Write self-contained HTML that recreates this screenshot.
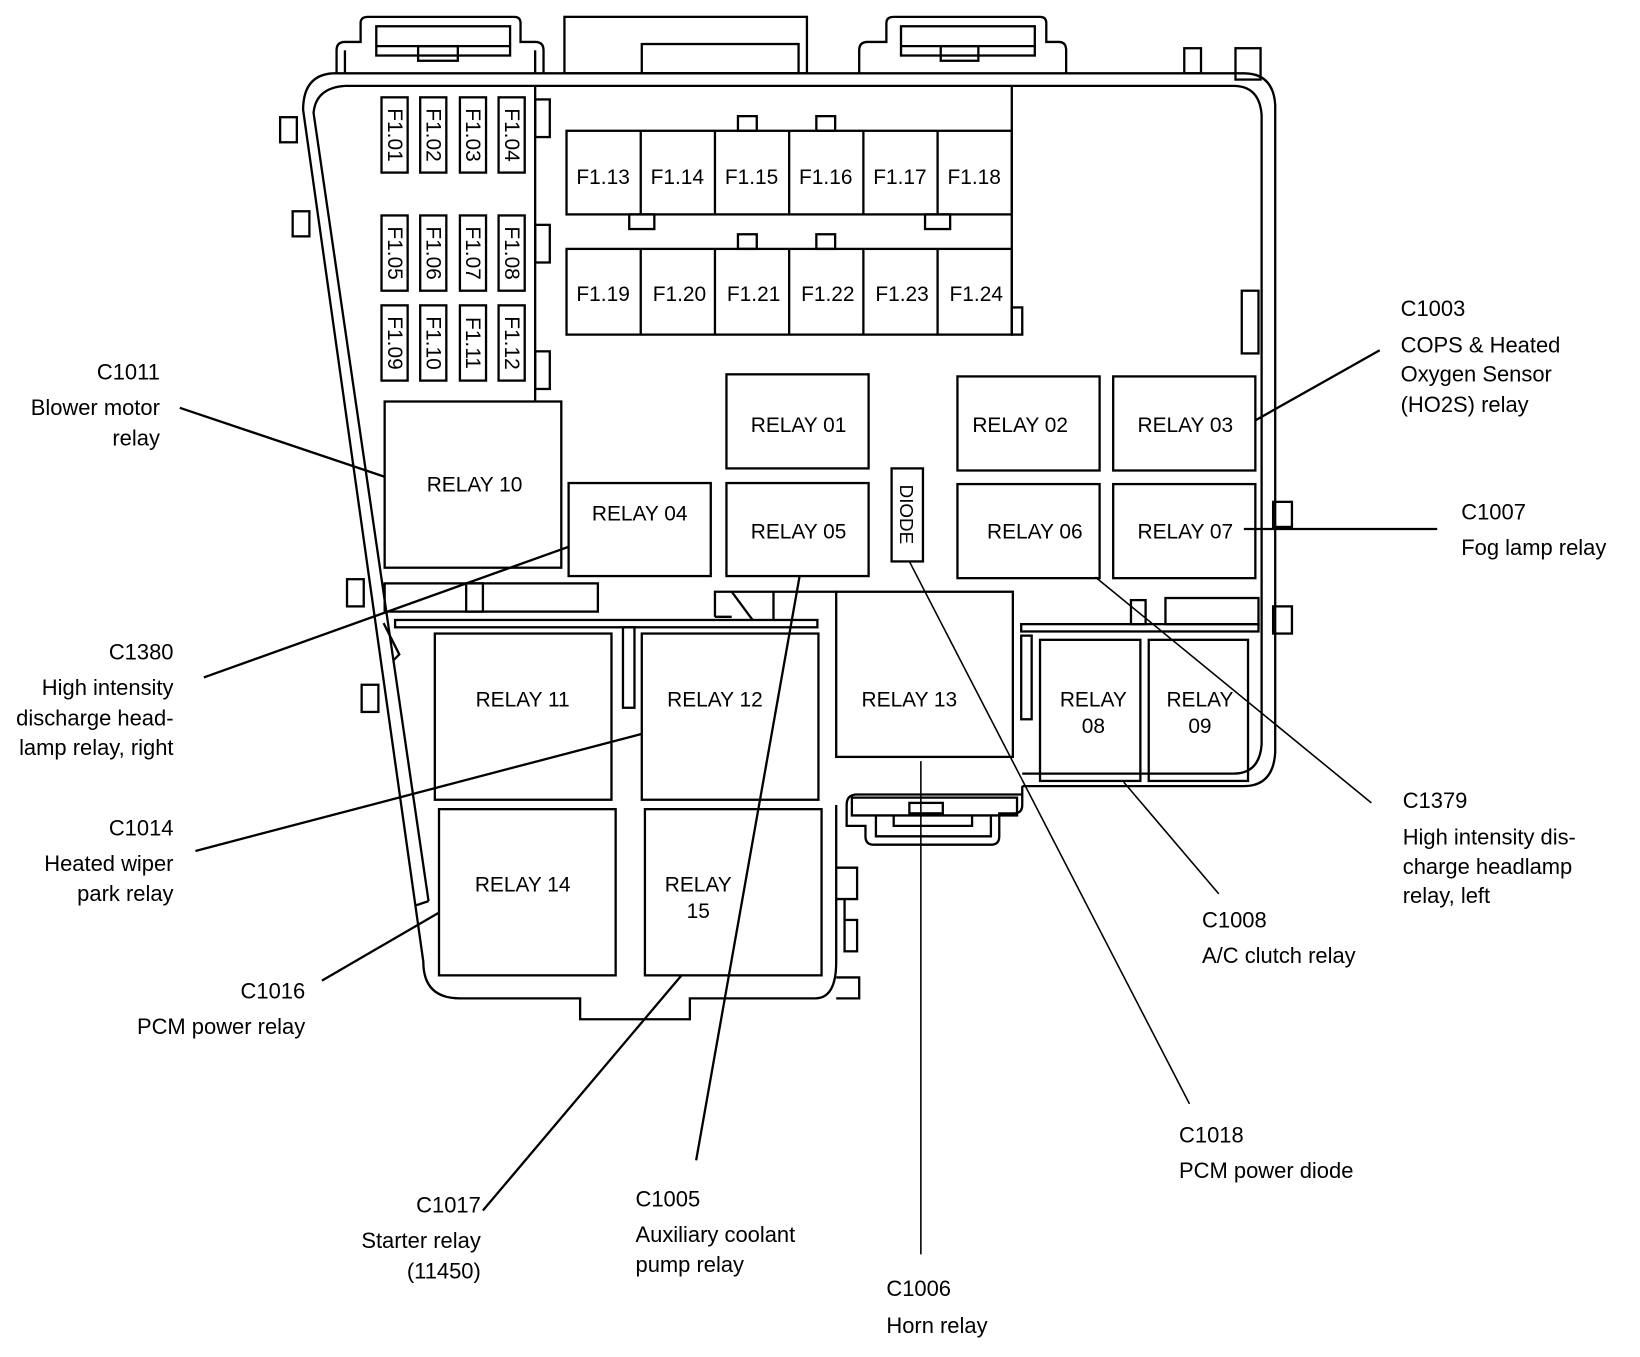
<!DOCTYPE html>
<html><head><meta charset="utf-8"><style>
html,body{margin:0;padding:0;background:#fff;width:1640px;height:1357px;overflow:hidden}
svg{display:block}
text{font-family:"Liberation Sans",sans-serif;fill:#000}
.l{font-size:21px}
.r{font-size:20px;text-anchor:middle}
.f{font-size:20px;text-anchor:middle}
</style></head><body>
<svg width="1640" height="1357" viewBox="0 0 1569 1298" xmlns="http://www.w3.org/2000/svg">
<g fill="none" stroke="#000" stroke-width="2.2">
<!-- top connectors -->
<path d="M322 70 V48 Q322 40 330 40 H345 V22 Q345 16 352 16 H492 Q498 16 498 22 V40 H512 Q520 40 520 48 V70"/>
<rect x="360" y="25" width="128" height="28"/>
<line x1="360" y1="44" x2="488" y2="44"/>
<rect x="400" y="44" width="38" height="14"/>
<line x1="330" y1="48" x2="330" y2="70"/><line x1="512" y1="48" x2="512" y2="70"/>
<rect x="540" y="16" width="232" height="54"/>
<rect x="614" y="42" width="150" height="28"/>
<path d="M822 70 V48 Q822 40 830 40 H848 V22 Q848 16 855 16 H995 Q1001 16 1001 22 V40 H1013 Q1020 40 1020 48 V70"/>
<rect x="862" y="25" width="128" height="28"/>
<line x1="862" y1="44" x2="990" y2="44"/>
<rect x="900" y="44" width="36" height="14"/>
<rect x="1133" y="46" width="16" height="24"/>
<rect x="1182" y="46" width="24" height="30"/>
<!-- outer housing -->
<path d="M318 70 H1190 Q1218 70 1220 100 V720 Q1218 752 1190 752 H978"/>
<path d="M800 770 V920 Q800 955 780 955 H660 V975 H555 V955 H440 Q405 955 405 920 L290 105 Q290 72 318 70"/>
<path d="M330 82 H1180 Q1205 82 1207 110 V712 Q1205 740 1180 740 H978"/>
<path d="M330 82 Q302 84 300 108 L410 862"/>
<line x1="410" y1="862" x2="398" y2="866"/>
<!-- left side tabs -->
<rect x="268" y="112" width="16" height="24"/>
<rect x="280" y="202" width="16" height="24"/>
<rect x="332" y="554" width="16" height="26"/>
<rect x="346" y="655" width="16" height="26"/>
<path d="M367 596 L382 626 L376 632"/>
<!-- fuse frame -->
<line x1="512" y1="82" x2="512" y2="383"/>
<line x1="968" y1="82" x2="968" y2="320"/>
<rect x="512" y="95" width="14" height="36"/>
<rect x="512" y="215" width="14" height="36"/>
<rect x="512" y="336" width="14" height="36"/>
<rect x="968" y="294" width="10" height="26"/>
<rect x="1188" y="278" width="16" height="60"/>
<!-- small fuses -->
<rect x="365" y="93" width="25" height="72"/><rect x="402" y="93" width="25" height="72"/><rect x="440" y="93" width="25" height="72"/><rect x="477" y="93" width="25" height="72"/>
<rect x="365" y="206" width="25" height="72"/><rect x="402" y="206" width="25" height="72"/><rect x="440" y="206" width="25" height="72"/><rect x="477" y="206" width="25" height="72"/>
<rect x="365" y="292" width="25" height="72"/><rect x="402" y="292" width="25" height="72"/><rect x="440" y="292" width="25" height="72"/><rect x="477" y="292" width="25" height="72"/>
<!-- fuse rows -->
<rect x="542" y="125" width="426" height="80"/>
<line x1="613" y1="125" x2="613" y2="205"/><line x1="684" y1="125" x2="684" y2="205"/><line x1="755" y1="125" x2="755" y2="205"/><line x1="826" y1="125" x2="826" y2="205"/><line x1="897" y1="125" x2="897" y2="205"/>
<rect x="542" y="238" width="426" height="82"/>
<line x1="613" y1="238" x2="613" y2="320"/><line x1="684" y1="238" x2="684" y2="320"/><line x1="755" y1="238" x2="755" y2="320"/><line x1="826" y1="238" x2="826" y2="320"/><line x1="897" y1="238" x2="897" y2="320"/>
<rect x="706" y="111" width="18" height="14"/><rect x="781" y="111" width="18" height="14"/>
<rect x="602" y="205" width="24" height="14"/><rect x="885" y="205" width="24" height="14"/>
<rect x="706" y="224" width="18" height="14"/><rect x="781" y="224" width="18" height="14"/>
<!-- relays -->
<rect x="368" y="384" width="169" height="159"/>
<rect x="695" y="358" width="136" height="90"/>
<rect x="916" y="360" width="136" height="90"/>
<rect x="1065" y="360" width="136" height="90"/>
<rect x="544" y="462" width="136" height="89"/>
<rect x="695" y="462" width="136" height="89"/>
<rect x="853" y="448" width="30" height="89"/>
<rect x="916" y="463" width="136" height="90"/>
<rect x="1065" y="463" width="136" height="90"/>
<rect x="1218" y="480" width="18" height="24"/>
<rect x="1218" y="580" width="18" height="26"/>
<rect x="368" y="558" width="204" height="27"/>
<rect x="446" y="558" width="16" height="27"/>
<rect x="378" y="593" width="404" height="7"/>
<path d="M684 590 V566 H800 M700 566 L720 593 M740 566 V593 M684 590 H700"/>
<rect x="800" y="566" width="169" height="158"/>
<rect x="596" y="600" width="11" height="77"/>
<rect x="416" y="606" width="169" height="159"/>
<rect x="614" y="606" width="169" height="159"/>
<rect x="420" y="774" width="169" height="159"/>
<rect x="617" y="774" width="169" height="159"/>
<rect x="977" y="597" width="227" height="7"/>
<rect x="1115" y="572" width="89" height="25"/>
<rect x="1082" y="574" width="14" height="23"/>
<rect x="977" y="608" width="10" height="80"/>
<rect x="995" y="612" width="96" height="135"/>
<rect x="1099" y="612" width="95" height="135"/>
<!-- relay 13 connector -->
<path d="M978 752 V770 Q978 778 970 778 H956 V800 Q956 808 948 808 H836 Q828 808 828 800 V790 H810 V770 Q810 760 820 760 H978"/>
<path d="M815 763 H973 V780 H815 Z M838 780 V800 H948 V780 M855 780 V790 H930 V780"/>
<rect x="870" y="768" width="32" height="10"/>
<path d="M800 830 H820 V860 H800 M808 860 V880 M800 935 H822 V955 H800"/>
<rect x="808" y="880" width="12" height="30"/>
<!-- leaders -->
<path d="M172 390 L368 456"/>
<path d="M1320 335 L1201 402"/>
<path d="M1190 506 L1375 506"/>
<path d="M195 648 L544 523"/>
<path d="M187 814 L614 702"/>
<path d="M308 938 L420 873"/>
<path d="M462 1158 L652 933"/>
<path d="M666 1110 L765 551"/>
<path d="M881 728 L881 1200" stroke-width="1.5"/>
<path d="M1138 1056 L870 537" stroke-width="1.5"/>
<path d="M1166 855 L1075 748" stroke-width="1.5"/>
<path d="M1312 768 L1048 552" stroke-width="1.5"/>
</g>
<!-- fuse labels vertical -->
<g class="f">
<text transform="translate(371,129) rotate(90)">F1.01</text><text transform="translate(408,129) rotate(90)">F1.02</text><text transform="translate(446,129) rotate(90)">F1.03</text><text transform="translate(483,129) rotate(90)">F1.04</text>
<text transform="translate(371,242) rotate(90)">F1.05</text><text transform="translate(408,242) rotate(90)">F1.06</text><text transform="translate(446,242) rotate(90)">F1.07</text><text transform="translate(483,242) rotate(90)">F1.08</text>
<text transform="translate(371,328) rotate(90)">F1.09</text><text transform="translate(408,328) rotate(90)">F1.10</text><text transform="translate(446,328) rotate(90)">F1.11</text><text transform="translate(483,328) rotate(90)">F1.12</text>
<text x="577" y="176">F1.13</text><text x="648" y="176">F1.14</text><text x="719" y="176">F1.15</text><text x="790" y="176">F1.16</text><text x="861" y="176">F1.17</text><text x="932" y="176">F1.18</text>
<text x="577" y="288">F1.19</text><text x="650" y="288">F1.20</text><text x="721" y="288">F1.21</text><text x="792" y="288">F1.22</text><text x="863" y="288">F1.23</text><text x="934" y="288">F1.24</text>
</g>
<g class="r">
<text x="454" y="470">RELAY 10</text>
<text x="764" y="413">RELAY 01</text>
<text x="976" y="413">RELAY 02</text>
<text x="1134" y="413">RELAY 03</text>
<text x="612" y="498">RELAY 04</text>
<text x="764" y="515">RELAY 05</text>
<text transform="translate(861,492) rotate(90)" font-size="18">DIODE</text>
<text x="990" y="515">RELAY 06</text>
<text x="1134" y="515">RELAY 07</text>
<text x="500" y="676">RELAY 11</text>
<text x="684" y="676">RELAY 12</text>
<text x="870" y="676">RELAY 13</text>
<text x="1046" y="676">RELAY</text><text x="1046" y="701">08</text>
<text x="1148" y="676">RELAY</text><text x="1148" y="701">09</text>
<text x="500" y="853">RELAY 14</text>
<text x="668" y="853">RELAY</text><text x="668" y="878">15</text>
</g>
<g class="l">
<text x="153" y="363" text-anchor="end">C1011</text>
<text x="153" y="397" text-anchor="end">Blower motor</text>
<text x="153" y="426" text-anchor="end">relay</text>
<text x="166" y="631" text-anchor="end">C1380</text>
<text x="166" y="665" text-anchor="end">High intensity</text>
<text x="166" y="694" text-anchor="end">discharge head-</text>
<text x="166" y="722" text-anchor="end">lamp relay, right</text>
<text x="166" y="799" text-anchor="end">C1014</text>
<text x="166" y="833" text-anchor="end">Heated wiper</text>
<text x="166" y="862" text-anchor="end">park relay</text>
<text x="292" y="955" text-anchor="end">C1016</text>
<text x="292" y="989" text-anchor="end">PCM power relay</text>
<text x="460" y="1160" text-anchor="end">C1017</text>
<text x="460" y="1194" text-anchor="end">Starter relay</text>
<text x="460" y="1223" text-anchor="end">(11450)</text>
<text x="608" y="1154">C1005</text>
<text x="608" y="1188">Auxiliary coolant</text>
<text x="608" y="1217">pump relay</text>
<text x="848" y="1240">C1006</text>
<text x="848" y="1275">Horn relay</text>
<text x="1128" y="1093">C1018</text>
<text x="1128" y="1127">PCM power diode</text>
<text x="1150" y="887">C1008</text>
<text x="1150" y="921">A/C clutch relay</text>
<text x="1342" y="773">C1379</text>
<text x="1342" y="808">High intensity dis-</text>
<text x="1342" y="836">charge headlamp</text>
<text x="1342" y="864">relay, left</text>
<text x="1398" y="497">C1007</text>
<text x="1398" y="531">Fog lamp relay</text>
<text x="1340" y="302">C1003</text>
<text x="1340" y="337">COPS &amp; Heated</text>
<text x="1340" y="365">Oxygen Sensor</text>
<text x="1340" y="394">(HO2S) relay</text>
</g>
</svg>
</body></html>
